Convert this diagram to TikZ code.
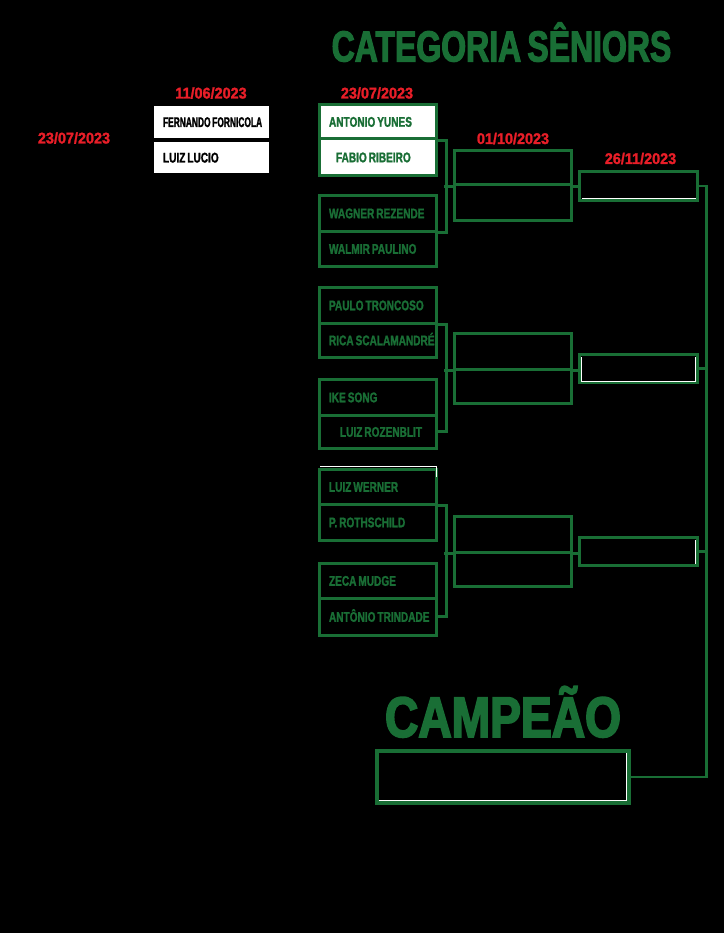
\documentclass[tikz,border=0pt]{standalone}
\usepackage{fontspec}
\setmainfont{Liberation Sans}
\newfontfamily\titlef{Liberation Sans}[UprightFont=* Bold, FakeStretch=0.735, FakeBold=2.5, WordSpace=0.7]
\newfontfamily\namef{Liberation Sans}[UprightFont=* Bold, FakeStretch=0.72, FakeBold=1.5, WordSpace=0.7]
\newfontfamily\namefn{Liberation Sans}[UprightFont=* Bold, FakeStretch=0.60, FakeBold=1.5, WordSpace=0.7]
\newfontfamily\datef{Liberation Sans}[UprightFont=* Bold, FakeStretch=0.93, FakeBold=1.5]
\newfontfamily\champf{Liberation Sans}[UprightFont=* Bold, FakeStretch=0.81, FakeBold=3]
\definecolor{cgreen}{RGB}{25,110,53}
\definecolor{cred}{RGB}{232,30,40}
\newcommand{\lbox}[1]{\makebox[98pt][l]{#1}}
\begin{document}
\begin{tikzpicture}[x=1pt,y=-1pt,
  gbox/.style={draw=cgreen, line width=3pt, inner xsep=9.5pt, inner ysep=0pt,
    minimum width=117pt, text height=10pt, text depth=0pt,
    font=\namef\fontsize{14}{14}\selectfont, text=cgreen},
  wbox/.style={fill=white, inner xsep=9pt, inner ysep=0pt, minimum width=115pt,
    text height=10pt, text depth=0pt,
    font=\namef\fontsize{14}{14}\selectfont, text=black},
  ebox/.style={draw=cgreen, line width=3pt, inner sep=0pt},
  datestyle/.style={text=cred, font=\datef\fontsize{15.5}{15.5}\selectfont,
    inner sep=0pt, text height=11pt, text depth=0pt},
  conn/.style={draw=cgreen, line width=2.7pt},
  glint/.style={draw=white, line width=0.9pt}]
\fill[black] (0,0) rectangle (724,933);
\useasboundingbox (0,0) rectangle (724,933);

% title
\node[text=cgreen, inner sep=0pt, text height=31pt, text depth=0pt,
  font=\titlef\fontsize{43.5}{43.5}\selectfont] (title) at (501.5,46) {CATEGORIA SÊNIORS};

% dates
\node[datestyle] (d1) at (211,93) {11/06/2023};
\node[datestyle] (d2) at (377,93) {23/07/2023};
\node[datestyle] (d0) at (74,138) {23/07/2023};
\node[datestyle] (d3) at (513,138.5) {01/10/2023};
\node[datestyle] (d4) at (640.5,158.5) {26/11/2023};

% white boxes
\node[wbox, minimum height=32pt, font=\namefn\fontsize{14}{14}\selectfont] (fw1) at (211.5,122) {\makebox[97pt][l]{FERNANDO FORNICOLA}};
\node[wbox, minimum height=31pt] (fw2) at (211.5,157.5) {\makebox[97pt][l]{LUIZ LUCIO}};

% first round pairs
\node[gbox, fill=white, minimum height=34.5pt] (a1) at (378,121.75) {\lbox{ANTONIO YUNES}};
\node[gbox, fill=white, minimum height=36.5pt] (a2) at (378,157.25) {\lbox{\hspace*{7pt}FABIO RIBEIRO}};

\node[gbox, minimum height=35.5pt] (w1) at (378,213.25) {\lbox{WAGNER REZENDE}};
\node[gbox, minimum height=35.5pt] (w2) at (378,248.75) {\lbox{WALMIR PAULINO}};

\node[gbox, minimum height=35.5pt] (p1) at (378,305.25) {\lbox{PAULO TRONCOSO}};
\node[gbox, minimum height=34.5pt] (p2) at (378,340.25) {\lbox{RICA SCALAMANDRÉ}};

\node[gbox, minimum height=35.5pt] (i1) at (378,397.25) {\lbox{IKE SONG}};
\node[gbox, minimum height=33.5pt] (i2) at (378,431.75) {\lbox{\hspace*{11pt}LUIZ ROZENBLIT}};

\node[gbox, minimum height=34.5pt] (l1) at (378,486.75) {\lbox{LUIZ WERNER}};
\node[gbox, minimum height=36.5pt] (l2) at (378,522.25) {\lbox{P. ROTHSCHILD}};

\node[gbox, minimum height=34.5pt] (z1) at (378,580.75) {\lbox{ZECA MUDGE}};
\node[gbox, minimum height=37.5pt] (z2) at (378,616.75) {\lbox{ANTÔNIO TRINDADE}};

% second round
\node[ebox, minimum width=117pt, minimum height=34.5pt] (q1a) at (513,167.75) {};
\node[ebox, minimum width=117pt, minimum height=35.5pt] (q1b) at (513,202.75) {};
\node[ebox, minimum width=117pt, minimum height=35.5pt] (q2a) at (513,351.25) {};
\node[ebox, minimum width=117pt, minimum height=34.5pt] (q2b) at (513,386.25) {};
\node[ebox, minimum width=117pt, minimum height=35.5pt] (q3a) at (513,534.25) {};
\node[ebox, minimum width=117pt, minimum height=34.5pt] (q3b) at (513,569.25) {};

% third round
\node[ebox, minimum width=118pt, minimum height=29pt] (f1) at (638.5,186) {};
\node[ebox, minimum width=118pt, minimum height=28pt] (f2) at (638.5,368.5) {};
\node[ebox, minimum width=118pt, minimum height=28pt] (f3) at (638.5,551.5) {};

% champion
\node[text=cgreen, inner sep=0pt, text height=40.8pt, text depth=0pt,
  font=\champf\fontsize{57}{57}\selectfont] (champt) at (503,716.5) {CAMPEÃO};
\node[draw=cgreen, line width=4pt, inner sep=0pt, minimum width=252pt, minimum height=52pt] (champ) at (503,777) {};

% connectors
\draw[conn] (a1.south east) -- ++(8.5,0) |- (w1.south east);
\draw[conn] (p1.south east) -- ++(8.5,0) |- (i2.east);
\draw[conn] (l1.south east) -- ++(8.5,0) |- (z2.east);
\draw[conn] (q1a.south west) -- ++(-9.5,0);
\draw[conn] (q2a.south west) -- ++(-9.5,0);
\draw[conn] (q3a.south west) -- ++(-9.5,0);
\draw[conn] (q1a.south east) -- (q1a.south east -| f1.west);
\draw[conn] (q2a.south east) -- (q2a.south east -| f2.west);
\draw[conn] (q3a.south east) -- (q3a.south east -| f3.west);
\draw[conn] (f1.east) -- ++(7.5,0) |- (champ.east);
\draw[conn] (f2.east) -- ++(7.5,0);
\draw[conn] (f3.east) -- ++(7.5,0);

% thin white glints
\draw[glint] (582,198.5) -- (695.5,198.5);
\draw[glint] (581.5,357) -- (581.5,381.5) -- (695.5,381.5) -- (695.5,357);
\draw[glint] (695.5,540) -- (695.5,564);
\draw[glint] (379,800.5) -- (626.5,800.5) -- (626.5,753);
\draw[glint] (320,466.8) -- (436,466.8) -- (436,477);
\end{tikzpicture}
\end{document}
